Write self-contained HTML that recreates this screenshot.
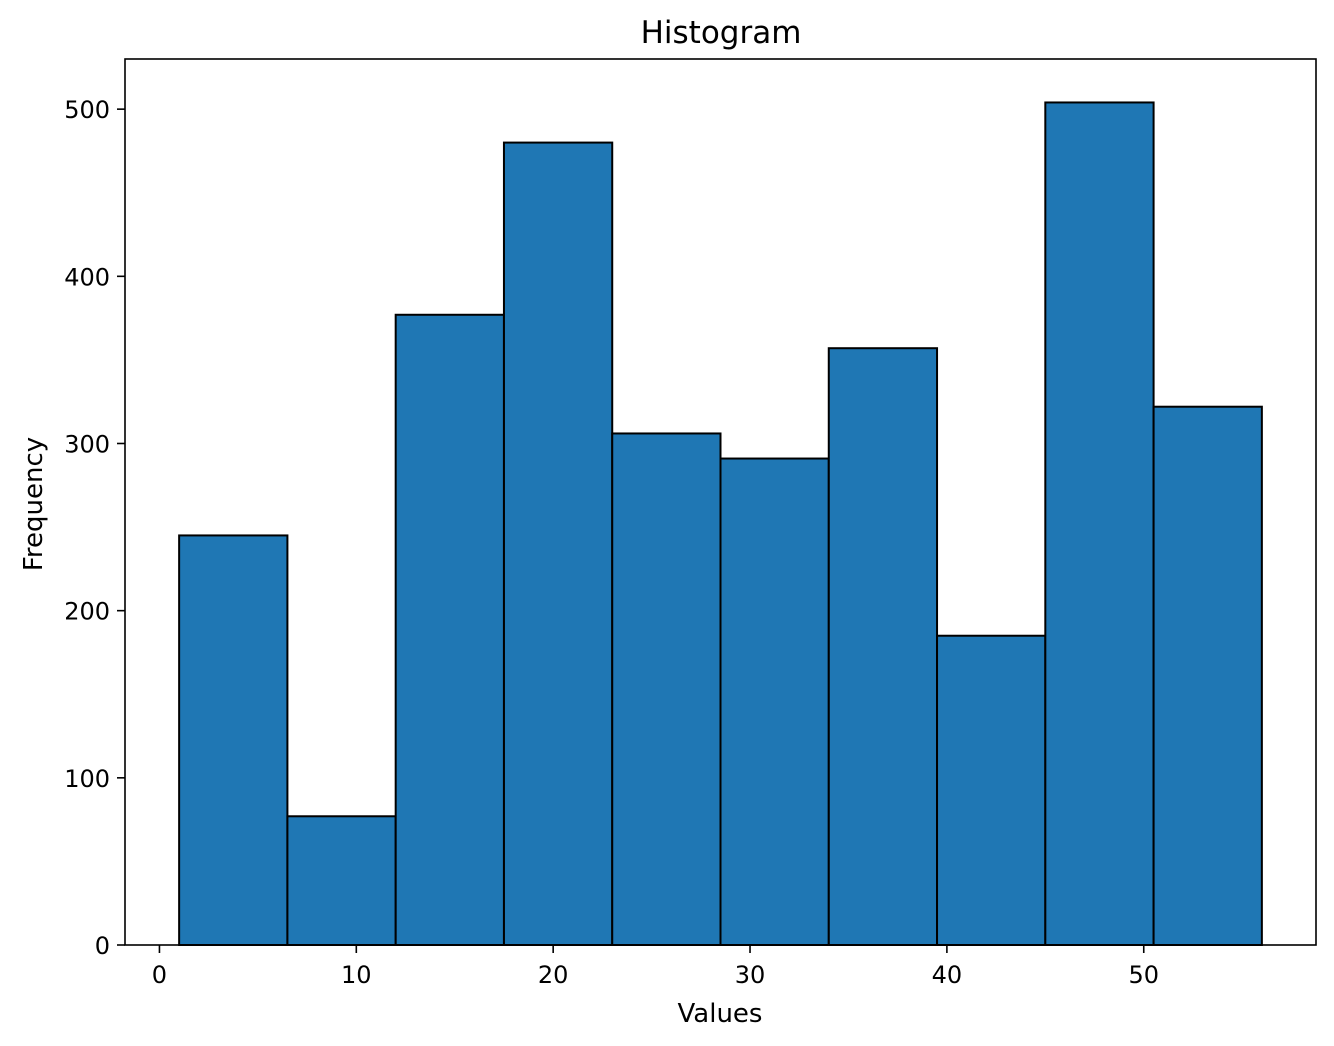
<!DOCTYPE html>
<html><head><meta charset="utf-8"><style>
html,body{margin:0;padding:0;background:#fff;}
svg text{font-family:"DejaVu Sans","Liberation Sans",sans-serif;fill:#000;}
</style></head><body>
<svg id="chart" width="1334" height="1046" xmlns="http://www.w3.org/2000/svg" style="position:absolute;left:0;top:0">
<rect width="1334" height="1046" fill="#fff"/>
<g id="bars"></g>
<g id="axes"></g>
<text x="721" y="43" text-anchor="middle" font-size="31">Histogram</text>
<text x="720" y="1022" text-anchor="middle" font-size="26">Values</text>
<text x="42" y="504" text-anchor="middle" font-size="26" transform="rotate(-90 42 504)">Frequency</text>
</svg>
<script>
const binStart = 1;
const binWidth = 5.5;
const counts = [245, 77, 377, 480, 306, 291, 357, 185, 504, 322];
const xTicks = [0, 10, 20, 30, 40, 50];
const yTicks = [0, 100, 200, 300, 400, 500];

const L=125,R=1316,T=59,B=945;
const xMin=-1.75,xMax=58.75,yMin=0,yMax=530;
const sx=v=>L+(v-xMin)/(xMax-xMin)*(R-L);
const sy=v=>B-(v-yMin)/(yMax-yMin)*(B-T);
const NS='http://www.w3.org/2000/svg';
function mk(tag,attrs,parent){const e=document.createElementNS(NS,tag);for(const k in attrs)e.setAttribute(k,attrs[k]);parent.appendChild(e);return e;}
const bars=document.getElementById('bars'),axes=document.getElementById('axes');
counts.forEach((c,i)=>{
  const x0=sx(binStart+i*binWidth),x1=sx(binStart+(i+1)*binWidth);
  const r=mk('rect',{x:x0,y:sy(c),width:x1-x0,height:sy(0)-sy(c),fill:'#1f77b4',stroke:'#000','stroke-width':2},bars);
  
  
});
const frame=mk('rect',{x:L,y:T,width:R-L,height:B-T,fill:'none',stroke:'#000','stroke-width':1.6},axes);


xTicks.forEach(v=>{
  const x=sx(v);
  mk('line',{x1:x,x2:x,y1:B,y2:B+8,stroke:'#000','stroke-width':1.6},axes);
  const t=mk('text',{x:x,y:B+38,'text-anchor':'middle','font-size':'24'},axes);
  t.textContent=v;
  
  
});
yTicks.forEach(v=>{
  const y=sy(v);
  mk('line',{x1:L-8,x2:L,y1:y,y2:y,stroke:'#000','stroke-width':1.6},axes);
  const t=mk('text',{x:L-15,y:y+9,'text-anchor':'end','font-size':'24'},axes);
  t.textContent=v;
  
  
});
</script>
</body></html>
